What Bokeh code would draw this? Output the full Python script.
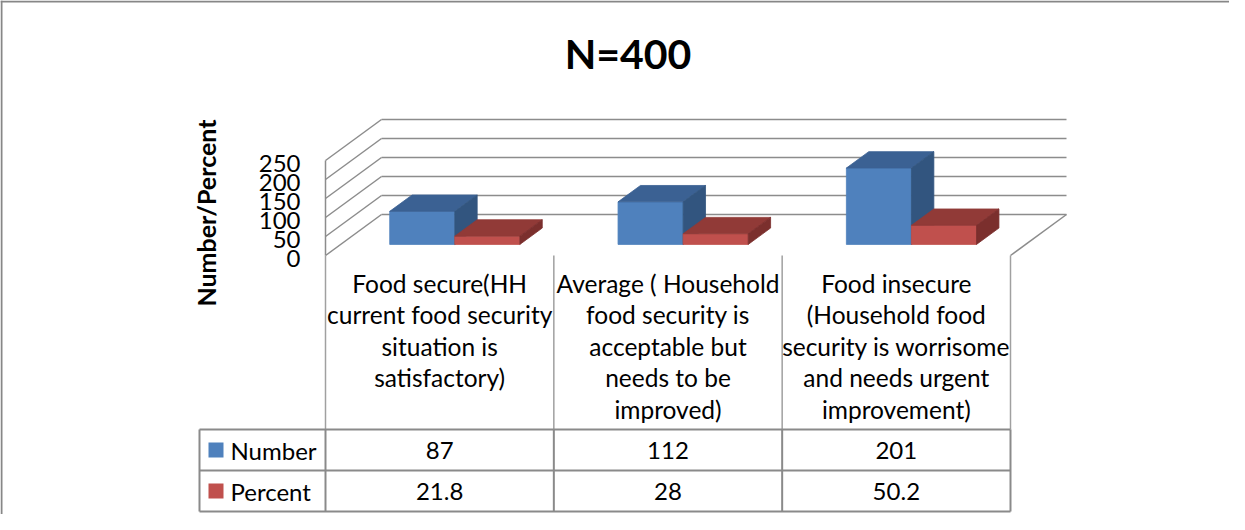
import math
from bokeh.plotting import figure
from bokeh.models import Range1d, Span
from bokeh.embed import file_html
from bokeh.resources import INLINE
from bokeh.core.properties import value

# ---------------- data ----------------
title = "N=400"
y_title = "Number/Percent"
categories = [
    "Food secure(HH\ncurrent food security\nsituation is\nsatisfactory)",
    "Average ( Household\nfood security is\nacceptable but\nneeds to be\nimproved)",
    "Food insecure\n(Household food\nsecurity is worrisome\nand needs urgent\nimprovement)",
]
series_names = ["Number", "Percent"]
number = [87, 112, 201]
percent = [21.8, 28, 50.2]
y_ticks = [0, 50, 100, 150, 200, 250]

# ---------------- layout ----------------
M = 8                     # page margin
W, H = 1229, 514          # canvas size
ORIG_PX, ORIG_PY = 333, 263   # screen position of (0, 0)
SX = 685 / 3              # px per category
SY = 0.38                 # px per value unit

def X(px):
    return (px - ORIG_PX) / SX

def Y(py):
    return (ORIG_PY - py) / SY

DX, DY = 56 / SX, 41 / SY        # full depth offset
D0, D1 = 0.27, 0.67              # bar depth (front/back fraction)
BW = 0.285                       # bar width (category units)
FONT = value("Lato")
GRID = "#8c8c8c"

colors = [
    dict(front="#4f81bd", top="#3b6193", side="#32557f"),
    dict(front="#c0504d", top="#913a37", side="#7b2f2d"),
]

p = figure(width=W, height=H,
           x_range=Range1d(X(M), X(M + W)),
           y_range=Range1d(Y(M + H), Y(M)),
           x_axis_location=None, y_axis_location=None,
           min_border=0, output_backend="svg", toolbar_location=None)
p.grid.visible = False
p.outline_line_color = None
p.background_fill_color = "white"
p.border_fill_color = "white"

# outer chart border (left & top visible)
p.add_layout(Span(location=X(M + 1), dimension="height", line_color="#878787", line_width=2))
p.add_layout(Span(location=Y(M + 1), dimension="width", line_color="#878787", line_width=2))

ncat = len(categories)
top_v = y_ticks[-1]

# ---------------- walls / gridlines ----------------
gx, gy = [], []
for v in y_ticks:
    gx.append([DX, ncat + DX]); gy.append([v + DY, v + DY])      # back wall
    gx.append([0, DX]); gy.append([v, v + DY])                    # side wall
gx.append([0, 0]); gy.append([0, top_v])                          # front-left edge
gx.append([ncat, ncat + DX]); gy.append([0, DY])                  # floor right edge
p.multi_line(gx, gy, line_color=GRID, line_width=1.5)

# ---------------- 3D bars ----------------
series = [number, percent]
for i in range(ncat):
    for s, vals in enumerate(series):
        h = vals[i]
        x0 = i + 0.5 - BW + s * BW
        x1 = x0 + BW
        fx = [x0 + D0 * DX, x1 + D0 * DX, x1 + D0 * DX, x0 + D0 * DX]
        fy = [D0 * DY, D0 * DY, h + D0 * DY, h + D0 * DY]
        tx = [x0 + D0 * DX, x1 + D0 * DX, x1 + D1 * DX, x0 + D1 * DX]
        ty = [h + D0 * DY, h + D0 * DY, h + D1 * DY, h + D1 * DY]
        sxs = [x1 + D0 * DX, x1 + D1 * DX, x1 + D1 * DX, x1 + D0 * DX]
        sys_ = [D0 * DY, D1 * DY, h + D1 * DY, h + D0 * DY]
        c = colors[s]
        p.patches([fx, tx, sxs], [fy, ty, sys_],
                  fill_color=[c["front"], c["top"], c["side"]],
                  line_color=[c["front"], c["top"], c["side"]], line_width=0.8)

# ---------------- y tick labels & title ----------------
p.text(x=[X(308)] * len(y_ticks), y=[v - 2.5 / SY for v in y_ticks],
       text=[str(v) for v in y_ticks], text_font=FONT, text_font_size="24px",
       text_align="right", text_baseline="middle", text_color="black")
p.text(x=[X(213)], y=[Y(220.5)], text=[y_title], angle=math.pi / 2,
       text_font=FONT, text_font_size="25px", text_font_style="bold",
       text_align="center", text_baseline="middle", text_color="black")
p.text(x=[X(635.5)], y=[Y(61)], text=[title], text_font=FONT,
       text_font_size="41px", text_font_style="bold",
       text_align="center", text_baseline="middle", text_color="black")

# ---------------- data table ----------------
row_top, row_mid, row_bot = Y(437), Y(478), Y(519)
left = X(207)
# category area verticals
p.multi_line([[k, k] for k in range(ncat + 1)], [[0, row_top]] * (ncat + 1),
             line_color="#a0a0a0", line_width=1.5)
# data rows grid
tx_, ty_ = [], []
for yy in (row_top, row_mid, row_bot):
    tx_.append([left, ncat]); ty_.append([yy, yy])
for xx in [left] + list(range(ncat + 1)):
    tx_.append([xx, xx]); ty_.append([row_top, row_bot])
p.multi_line(tx_, ty_, line_color="#8a8a8a", line_width=2)

p.text(x=[k + 0.5 for k in range(ncat)], y=[Y(276)] * ncat, text=categories,
       text_font=FONT, text_font_size="24.5px", text_line_height=1.09,
       text_align="center", text_baseline="top", text_color="black")

row_centers = [(row_top + row_mid) / 2, (row_mid + row_bot) / 2]
p.scatter(x=[X(223.5)] * 2, y=row_centers, marker="square", size=15,
          fill_color=[c["front"] for c in colors], line_color=None)
p.text(x=[X(238)] * 2, y=row_centers, text=series_names, text_font=FONT,
       text_font_size="24px", text_align="left", text_baseline="middle", text_color="black")
for s, vals in enumerate(series):
    p.text(x=[k + 0.5 for k in range(ncat)], y=[row_centers[s]] * ncat,
           text=[f"{v:g}" for v in vals], text_font=FONT, text_font_size="24px",
           text_align="center", text_baseline="middle", text_color="black")

open("out.html", "w").write(file_html(p, INLINE))
